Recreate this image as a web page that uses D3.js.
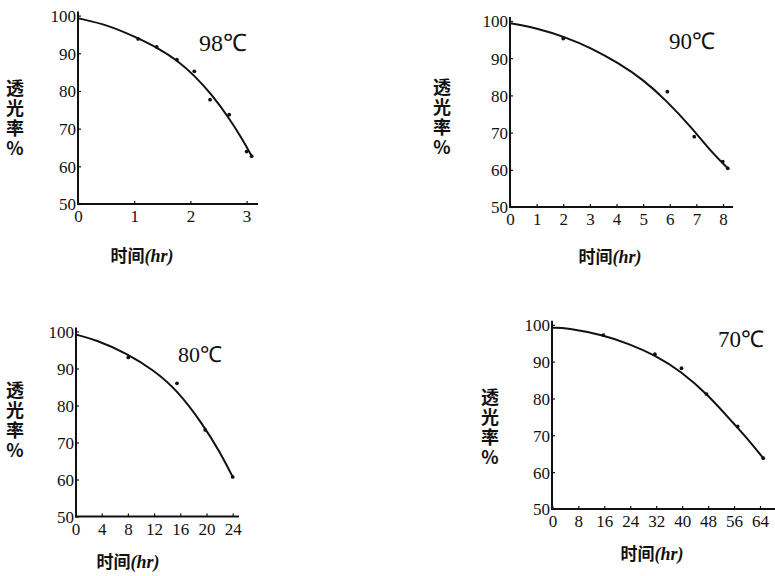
<!DOCTYPE html>
<html><head><meta charset="utf-8">
<script src="https://cdn.jsdelivr.net/npm/d3@7"></script>
<style>
html,body{margin:0;padding:0;background:#fff;}
svg{display:block;}
</style></head>
<body>
<svg id="c" width="775" height="576"></svg>
<script>
// ---- data ----
const panelTitles = ["98℃", "90℃", "80℃", "70℃"];
const yTicks = [50, 60, 70, 80, 90, 100];
const xTicks98 = [0, 1, 2, 3];
const xTicks90 = [0, 1, 2, 3, 4, 5, 6, 7, 8];
const xTicks80 = [0, 4, 8, 12, 16, 20, 24];
const xTicks70 = [0, 8, 16, 24, 32, 40, 48, 56, 64];

const dotTime98 = [1.07, 1.4, 1.76, 2.07, 2.35, 2.69, 3.0, 3.09];
const dotVal98  = [93.8, 91.7, 88.3, 85.2, 77.7, 73.7, 63.9, 62.7];
const curveTime98 = [0, 0.54, 1.07, 1.43, 1.76, 2.08, 2.38, 2.67, 2.91, 3.09];
const curveVal98  = [99.3, 97.5, 94.0, 91.3, 88.2, 84.0, 79.0, 73.2, 67.6, 62.7];

const dotTime90 = [2.0, 5.91, 6.92, 7.99, 8.18];
const dotVal90  = [95.3, 81.0, 68.9, 62.2, 60.4];
const curveTime90 = [0, 1.07, 2.01, 3.08, 4.09, 4.97, 5.85, 6.79, 7.61, 8.18];
const curveVal90  = [99.4, 98.0, 95.8, 92.7, 88.6, 84.4, 78.8, 71.6, 64.4, 60.4];

const dotTime80 = [8.06, 15.5, 19.8, 24.0];
const dotVal80  = [93.0, 86.0, 73.4, 60.7];
const curveTime80 = [0, 3.2, 7.8, 11.9, 15.5, 19.5, 22.1, 24.0];
const curveVal80  = [99.2, 97.7, 94.1, 89.6, 84.2, 74.8, 67.3, 60.7];

const dotTime70 = [15.7, 31.6, 39.8, 47.5, 57.1, 65.0];
const dotVal70  = [97.2, 92.0, 88.2, 81.2, 72.4, 63.8];
const curveTime70 = [0, 4.4, 15.7, 23.4, 31.6, 39.8, 48.0, 56.3, 60.9, 65.0];
const curveVal70  = [99.2, 99.2, 97.2, 94.9, 91.8, 87.3, 81.0, 72.8, 68.3, 63.8];

const yLabelText = "透光率%";
const xLabelCJK = "时间";
const xLabelUnit = "(hr)";

// ---- layout ----
const panels = [
  {title: panelTitles[0], xTicks: xTicks98, xd: [0, 3], xr: [78, 246.6], xEnd: 258, dT: dotTime98, dV: dotVal98, cT: curveTime98, cV: curveVal98,
   yr: [204, 15.6], yl: [15, 79], xl: [142, 262], tl: [199, 51], tsize: 24},
  {title: panelTitles[1], xTicks: xTicks90, xd: [0, 8], xr: [510, 723], xEnd: 733, dT: dotTime90, dV: dotVal90, cT: curveTime90, cV: curveVal90,
   yr: [207, 21], yl: [442, 78], xl: [610, 263], tl: [669, 49], tsize: 23},
  {title: panelTitles[2], xTicks: xTicks80, xd: [0, 24], xr: [75.5, 232.7], xEnd: 239, dT: dotTime80, dV: dotVal80, cT: curveTime80, cV: curveVal80,
   yr: [516.5, 331.5], yl: [15, 381], xl: [128, 568], tl: [178, 362], tsize: 22},
  {title: panelTitles[3], xTicks: xTicks70, xd: [0, 64], xr: [552.4, 760], xEnd: 775, dT: dotTime70, dV: dotVal70, cT: curveTime70, cV: curveVal70,
   yr: [509, 324.8], yl: [490, 388], xl: [652, 560], tl: [718, 347], tsize: 23}
];

const svg = d3.select("#c");
const numFont = "Liberation Serif";
const cjkFont = "Noto Sans CJK SC";

panels.forEach(p => {
  const x = d3.scaleLinear().domain(p.xd).range(p.xr);
  const y = d3.scaleLinear().domain([50, 100]).range(p.yr);
  const x0 = Math.round(x(0));
  const g = svg.append("g");

  const xAxis = d3.axisBottom(x).tickValues(p.xTicks).tickSize(-3).tickSizeOuter(0).tickPadding(6).tickFormat(d3.format("d"));
  const yAxis = d3.axisLeft(y).tickValues(yTicks).tickSize(-3).tickSizeOuter(0).tickPadding(2).tickFormat(d3.format("d"));

  const gy = g.append("g").attr("transform", `translate(${x0},0)`).call(yAxis);
  const gx = g.append("g").attr("transform", `translate(0,${p.yr[0]})`).call(xAxis);

  [gx, gy].forEach(a => {
    a.attr("font-family", numFont).attr("font-size", 17);
    a.select(".domain").remove();
    a.selectAll("line").attr("stroke", "#111").attr("stroke-width", 1.2);
    a.selectAll("text").attr("font-family", numFont).attr("fill", "#111");
  });
  gy.selectAll("text").attr("dy", "0.35em");
  gx.selectAll("text").attr("dy", "0.72em");

  g.append("line").attr("x1", x0).attr("x2", x0).attr("y1", p.yr[0] + 1).attr("y2", y(100) - 4)
    .attr("stroke", "#111").attr("stroke-width", 2);
  g.append("line").attr("x1", x0 - 1).attr("x2", p.xEnd).attr("y1", p.yr[0]).attr("y2", p.yr[0])
    .attr("stroke", "#111").attr("stroke-width", 2);

  const pts = p.cT.map((t, i) => [t, p.cV[i]]);
  const line = d3.line().x(d => x(d[0])).y(d => y(d[1])).curve(d3.curveBasis);
  g.append("path").attr("d", line(pts)).attr("fill", "none").attr("stroke", "#111").attr("stroke-width", 2);

  g.selectAll("circle.dot").data(p.dT.map((t, i) => [t, p.dV[i]])).enter().append("circle")
    .attr("cx", d => x(d[0])).attr("cy", d => y(d[1])).attr("r", 1.9).attr("fill", "#111");

  svg.append("text").attr("x", p.yl[0]).attr("y", p.yl[1])
    .attr("font-family", cjkFont).attr("font-weight", "bold").attr("font-size", 18)
    .style("writing-mode", "vertical-rl").style("text-orientation", "upright").style("letter-spacing", "2px")
    .attr("fill", "#111").text(yLabelText);

  const xl = svg.append("text").attr("x", p.xl[0]).attr("y", p.xl[1]).attr("text-anchor", "middle").attr("fill", "#111");
  xl.append("tspan").attr("font-family", cjkFont).attr("font-weight", "bold").attr("font-size", 17).text(xLabelCJK);
  xl.append("tspan").attr("font-family", numFont).attr("font-style", "italic").attr("font-weight", "bold").attr("font-size", 18).text(xLabelUnit);

  svg.append("text").attr("x", p.tl[0]).attr("y", p.tl[1]).attr("fill", "#111")
    .attr("font-family", numFont).attr("font-size", p.tsize).text(p.title);
});
</script>
</body></html>
